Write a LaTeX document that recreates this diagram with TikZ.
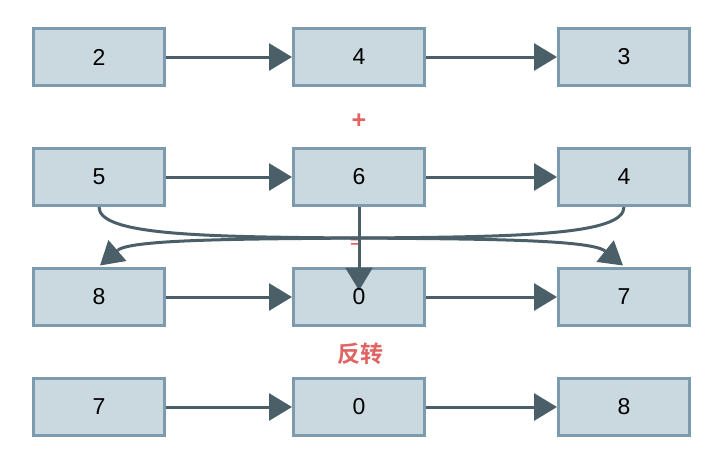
\documentclass[tikz,border=0pt]{standalone}
\usepackage{fontspec}
\setmainfont{Liberation Sans}
\newfontfamily\cjk{Noto Sans CJK SC}[BoldFont={Noto Sans CJK SC Bold}]
\usetikzlibrary{arrows.meta}
\definecolor{boxfill}{HTML}{CAD8DF}
\definecolor{boxline}{HTML}{7C9BAE}
\definecolor{edgec}{HTML}{4B5F69}
\definecolor{labc}{HTML}{E06464}
\tikzset{
  cell/.style={draw=boxline, fill=boxfill, line width=3pt, minimum width=131pt, minimum height=57pt, inner sep=0pt, font=\fontsize{23}{27}\selectfont},
  celltext/.style={inner sep=0pt, font=\fontsize{23}{27}\selectfont},
  edge/.style={draw=edgec, line width=3pt, -{Triangle[length=23pt,width=27pt]}},
  line/.style={draw=edgec, line width=3pt},
  lab/.style={text=labc, font=\bfseries\fontsize{25}{27}\selectfont},
}
\begin{document}
\begin{tikzpicture}[x=1pt,y=-1pt]
\useasboundingbox (0,0) rectangle (719,464);
% row 1
\node[cell] (a1) at (99,57) {2};
\node[cell] (a2) at (359,57) {4};
\node[cell] (a3) at (624,57) {3};
% row 2
\node[cell] (b1) at (99,177) {5};
\node[cell] (b2) at (359,177) {6};
\node[cell] (b3) at (624,177) {4};
% row 3
\node[cell] (c1) at (99,297) {8};
\node[cell] (c2) at (359,297) {};
\node[cell] (c3) at (624,297) {7};
% row 4
\node[cell] (d1) at (99,407) {7};
\node[cell] (d2) at (359,407) {0};
\node[cell] (d3) at (624,407) {8};
% labels
\node[lab] (plus) at (359,121) {+};
\node[lab, font=\bfseries\fontsize{16}{18}\selectfont] (eq) at (355,243) {=};
\node[lab, font=\cjk\bfseries\fontsize{23}{26}\selectfont] (rev) at (360,354) {反转};
% horizontal edges
\foreach \r in {a,b,c,d}{
  \draw[edge] (\r1.east) -- (\r2.west);
  \draw[edge] (\r2.east) -- (\r3.west);
}
% cross edges
\coordinate (t7) at (605,251);
\coordinate (t8) at (118,250);
\draw[line] (b1.south) .. controls (99,235) and (200,237) .. (359,238) .. controls (470,239) and (590,239) .. (t7);
\draw[edge] (t7) -- ([xshift=-1pt,yshift=1.5pt]c3.north);
\draw[line] (b3.south) .. controls (624,235) and (520,237) .. (359,238) .. controls (250,239) and (133,239) .. (t8);
\draw[edge] (t8) -- ([xshift=1pt,yshift=1.5pt]c1.north);
\coordinate (c2tip) at ([yshift=-23.5pt]c2.north);
\draw[edge] (b2.south) -- (c2tip);
\node[celltext] (c2t) at (c2.center) {0};
\end{tikzpicture}
\end{document}
